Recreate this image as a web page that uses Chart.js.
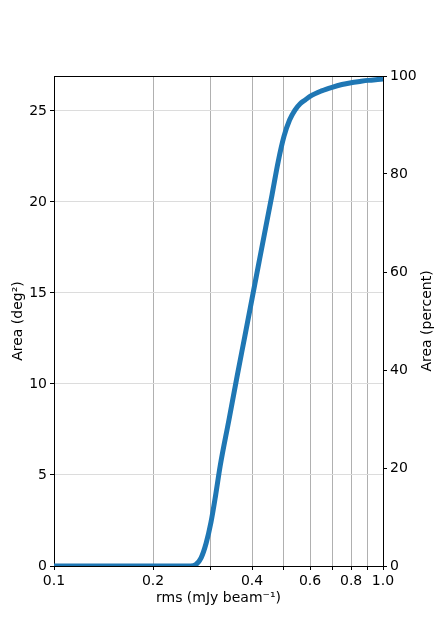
<!DOCTYPE html>
<html>
<head>
<meta charset="utf-8">
<script src="https://cdn.jsdelivr.net/npm/chart.js@4.4.0/dist/chart.umd.min.js"></script>
<style>
  html, body { margin: 0; padding: 0; background: #fff; }
  #wrap { width: 436px; height: 637px; }
</style>
</head>
<body>
<div id="wrap"><canvas id="chart"></canvas></div>
<script>
// rms noise (mJy/beam) and cumulative area (deg^2)
const rms = [0.1, 0.15, 0.2, 0.25, 0.26, 0.27, 0.28, 0.29, 0.30, 0.31, 0.32, 0.34, 0.36, 0.38, 0.40,
  0.42, 0.44, 0.46, 0.48, 0.50, 0.52, 0.54, 0.56, 0.58, 0.60, 0.65, 0.70, 0.75, 0.80, 0.85, 0.90, 0.95, 1.0];
const area = [0, 0, 0, 0, 0, 0.08, 0.45, 1.25, 2.4, 3.9, 5.5, 8.0, 10.4, 12.6, 14.7,
  16.7, 18.6, 20.4, 22.2, 23.6, 24.5, 25.05, 25.4, 25.6, 25.8, 26.1, 26.3, 26.45, 26.55, 26.62, 26.68, 26.72, 26.75];
const totalArea = 26.92;

const xTicks = [0.1, 0.2, 0.3, 0.4, 0.5, 0.6, 0.7, 0.8, 0.9, 1.0];
const xLabels = ['0.1', '0.2', '', '0.4', '', '0.6', '', '0.8', '', '1.0'];
const leftTicks = [0, 5, 10, 15, 20, 25];
const rightTicks = [0, 20, 40, 60, 80, 100];

const font = { family: 'DejaVu Sans', size: 14 };

const frame = {
  id: 'frame',
  afterDatasetsDraw(chart) {
    const { ctx, chartArea: a } = chart;
    ctx.save();
    ctx.strokeStyle = '#000';
    ctx.lineWidth = 1;
    ctx.beginPath();
    ctx.moveTo(a.left, a.top + 0.5);
    ctx.lineTo(a.right, a.top + 0.5);
    ctx.stroke();
    // right axis title, reading upwards like matplotlib
    ctx.translate(427, (a.top + a.bottom) / 2);
    ctx.rotate(-Math.PI / 2);
    ctx.fillStyle = '#000';
    ctx.font = '14px "DejaVu Sans"';
    ctx.textAlign = 'center';
    ctx.textBaseline = 'middle';
    ctx.fillText('Area (percent)', 0, 0);
    ctx.restore();
  }
};

new Chart(document.getElementById('chart'), {
  type: 'line',
  data: {
    datasets: [{
      data: rms.map((r, i) => ({ x: r, y: area[i] })),
      borderColor: '#1f77b4',
      borderWidth: 5,
      pointRadius: 0,
      cubicInterpolationMode: 'monotone',
      fill: false,
      clip: 0,
      yAxisID: 'y'
    }]
  },
  options: {
    responsive: true,
    maintainAspectRatio: false,
    animation: false,
    layout: { padding: { top: 76, left: 0, right: 0, bottom: 0 } },
    plugins: { legend: { display: false }, tooltip: { enabled: false } },
    scales: {
      x: {
        type: 'logarithmic',
        min: 0.1,
        max: 1.0,
        afterBuildTicks: s => { s.ticks = xTicks.map(v => ({ value: v })); },
        afterFit: s => { s.height = 71; },
        ticks: {
          autoSkip: false,
          maxRotation: 0,
          padding: 3,
          color: '#000',
          font: font,
          callback: (v, i) => xLabels[i]
        },
        grid: { color: '#b0b0b0', tickColor: '#000', tickLength: 4 },
        border: { color: '#000' },
        title: { display: true, text: 'rms (mJy beam⁻¹)', color: '#000', font: font, padding: { top: 0, bottom: 30 } }
      },
      y: {
        position: 'left',
        min: 0,
        max: totalArea,
        afterBuildTicks: s => { s.ticks = leftTicks.map(v => ({ value: v })); },
        afterFit: s => { s.width = 54; },
        ticks: { padding: 3, color: '#000', font: font },
        grid: { color: '#dcdcdc', tickColor: '#000', tickLength: 4 },
        border: { color: '#000' },
        title: { display: true, text: 'Area (deg²)', color: '#000', font: font, padding: { top: 10, bottom: 0 } }
      },
      y2: {
        position: 'right',
        min: 0,
        max: 100,
        afterBuildTicks: s => { s.ticks = rightTicks.map(v => ({ value: v })); },
        afterFit: s => { s.width = 53; },
        ticks: { padding: 3, color: '#000', font: font },
        grid: { drawOnChartArea: false, tickColor: '#000', tickLength: 4 },
        border: { color: '#000' }
      }
    }
  },
  plugins: [frame]
});
</script>
</body>
</html>
